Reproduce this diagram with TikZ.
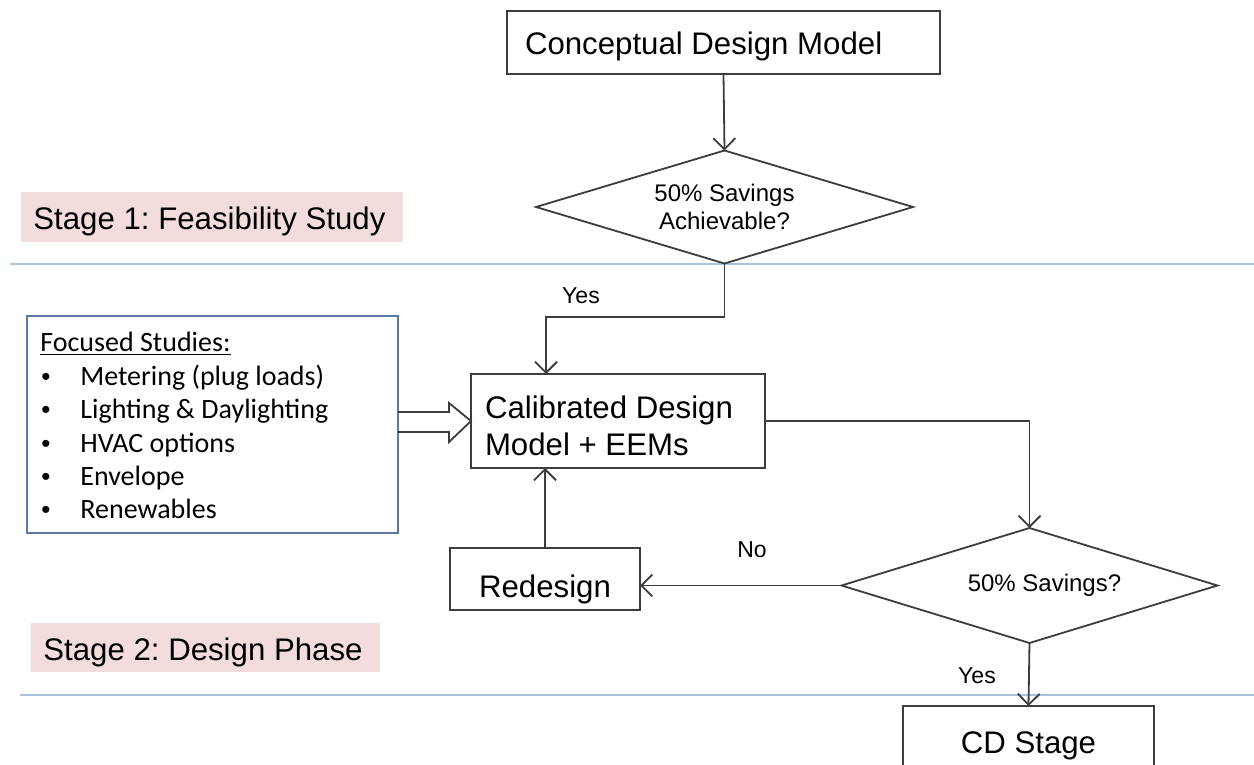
\documentclass[tikz,border=0pt]{standalone}
\usepackage{fontspec}
\setmainfont{Liberation Sans}
\newfontfamily\calibri{Carlito}
\usetikzlibrary{arrows.meta,shapes.geometric,calc}
\definecolor{linegray}{HTML}{3C3C3C}
\definecolor{stagepink}{HTML}{F2DDDC}
\definecolor{bandblue}{HTML}{A9C2DF}
\definecolor{fsblue}{HTML}{5A78A8}
\frenchspacing
\newcommand{\lowered}[2]{\raisebox{#1}[0pt][0pt]{#2}}
\begin{document}
\begin{tikzpicture}[x=0.5pt,y=-0.5pt,
  box/.style={draw=linegray, line width=0.9pt, rectangle, inner sep=0pt, outer sep=0pt,
    font=\fontsize{15.6}{18.5}\selectfont},
  dec/.style={draw=linegray, line width=0.9pt, diamond, aspect=3.3, inner sep=0pt, outer sep=0pt,
    align=center, font=\fontsize{12}{14}\selectfont},
  stagebox/.style={fill=stagepink, inner sep=0pt, minimum height=24.5pt,
    anchor=west, font=\fontsize{15.6}{18.5}\selectfont},
  band/.style={draw=bandblue, line width=1.4pt},
  arr/.style={draw=linegray, line width=0.9pt, -{Straight Barb[length=5.5pt,width=11pt,line width=0.9pt]}},
  lbl/.style={font=\fontsize{11.5}{14}\selectfont, inner sep=0pt},
  fstext/.style={font=\calibri\fontsize{14}{16}\selectfont, anchor=base west, inner sep=0pt},
  fsbullet/.style={font=\fontsize{13}{16}\selectfont, anchor=base west, inner sep=0pt},
  hollow/.style={draw=linegray, line width=0.9pt, line join=miter}
]
\clip (0,0) rectangle (1254,765);
\fill[white] (0,0) rectangle (1254,765);

% stage labels and bands
\node[stagebox, minimum width=191pt] (st1) at (21,217) {\makebox[179pt][l]{\lowered{-6.25pt}{Stage 1: Feasibility Study}}};
\node[stagebox, minimum width=174.5pt] (st2) at (31,647.5) {\makebox[162.5pt][l]{\lowered{-6.25pt}{Stage 2: Design Phase}}};
\coordinate (b1l) at (10,264);
\coordinate (b1r) at (1254,264);
\coordinate (b2l) at (20,695);
\coordinate (b2r) at (1254,695);
\draw[band] (b1l) -- (b1r);
\draw[band] (b2l) -- (b2r);

% main nodes
\node[box, minimum width=216.5pt, minimum height=31.5pt] (concept) at (723.5,42.5) {\makebox[198.5pt][l]{\lowered{-6.25pt}{Conceptual Design Model}}};
\node[dec, minimum width=188.5pt, minimum height=56.5pt] (d1) at (724.5,207) {50\% Savings\\Achievable?};
\node[box, minimum width=147pt, minimum height=47pt] (calib) at (618,421) {\makebox[133pt][l]{\lowered{1.5pt}{\parbox[t]{133pt}{Calibrated Design\\Model + EEMs}}}};
\node[box, minimum width=95pt, minimum height=31pt] (redesign) at (545,579) {\lowered{-9pt}{Redesign}};
\node[dec, minimum width=188pt, minimum height=57.5pt] (d2) at (1029.5,585.5) {\hspace*{15pt}50\% Savings?};
\node[box, minimum width=125.5pt, minimum height=39pt] (cd) at (1028.5,745) {\lowered{-4pt}{CD Stage}};

% focused studies
\node[draw=fsblue, line width=0.9pt, rectangle, minimum width=185.5pt, minimum height=108.5pt, inner sep=0pt, outer sep=0pt] (fs) at (212.5,424.5) {};
\node[fstext] (fsh) at (40,351) {\underline{Focused Studies:}};
\node[fsbullet] (b1) at (41,385) {•};
\node[fstext] (i1) at (80,385) {Metering (plug loads)};
\node[fsbullet] (b2) at (41,418.5) {•};
\node[fstext] (i2) at (80,418.5) {Lighting \& Daylighting};
\node[fsbullet] (b3) at (41,452) {•};
\node[fstext] (i3) at (80,452) {HVAC options};
\node[fsbullet] (b4) at (41,485) {•};
\node[fstext] (i4) at (80,485) {Envelope};
\node[fsbullet] (b5) at (41,518.5) {•};
\node[fstext] (i5) at (80,518.5) {Renewables};

% hollow arrow
\draw[hollow] ($(fs.east)+(0,-12.5)$) -- ++(51,0) -- ++(0,-9) -- (calib.west) -- ($(fs.east)+(51,17.5)$) -- ++(0,-10) -- ($(fs.east)+(0,7.5)$);

% connectors
\coordinate (j1) at (546,317);
\draw[arr] (concept.south) -- (d1.north);
\draw[arr] (d1.south) |- (j1) -- (j1 |- calib.north);
\draw[arr] (calib.east) -| (d2.north);
\draw[arr] (d2.west) -- (d2.west -| redesign.east);
\draw[arr] (redesign.north) -- (redesign.north |- calib.south);
\draw[arr] (d2.south) -- (cd.north);

% labels
\node[lbl] (yes1) at (581,296) {Yes};
\node[lbl] (no) at (752,550) {No};
\node[lbl] (yes2) at (977,676) {Yes};
\end{tikzpicture}
\end{document}
